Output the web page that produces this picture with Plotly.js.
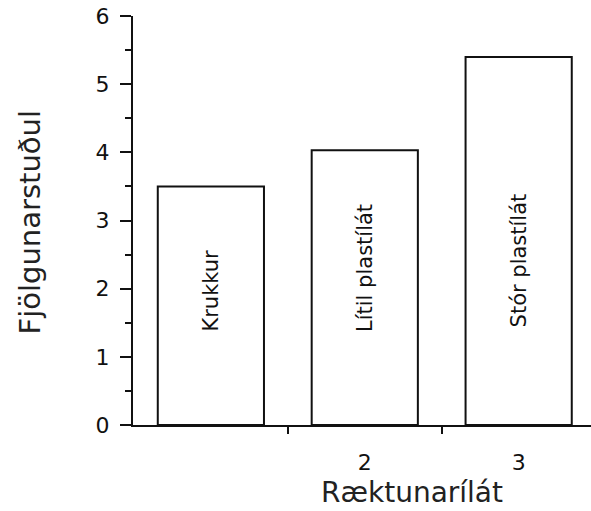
<!DOCTYPE html>
<html>
<head>
<meta charset="utf-8">
<script src="https://cdn.plot.ly/plotly-3.0.1.min.js"></script>
<style>html,body{margin:0;padding:0;background:#fff;}#chart{width:591px;height:511px;}</style>
</head>
<body>
<div id="chart"></div>
<script>
// Data
const categories = [1, 2, 3];
const values = [3.5, 4.03, 5.4];
const barLabels = ["Krukkur", "Lítil plastílát", "Stór plastílát"];
const labelY = [1.97, 2.3, 2.41];
const xTickVals = [2, 3];
const xTickText = ["2", "3"];
const xDividerTicks = [1.5, 2.5];
const yTickVals = [0, 1, 2, 3, 4, 5, 6];

const FONT = "DejaVu Sans, Arial, sans-serif";

const trace = {
  type: "bar",
  x: categories,
  y: values,
  width: 0.69,
  marker: { color: "#ffffff", line: { color: "#111", width: 2 } },
  hoverinfo: "none",
  showlegend: false
};
const dummy = { type: "scatter", x: [2], y: [0], xaxis: "x2", mode: "none", showlegend: false, hoverinfo: "none" };

const annotations = categories.map((c, i) => ({
  x: c, y: labelY[i], xref: "x", yref: "y",
  text: barLabels[i], textangle: -90, showarrow: false,
  font: { family: FONT, size: 21, color: "#111" }
}));
annotations.push({
  x: 0.609, y: -0.208, xref: "paper", yref: "paper", xanchor: "center", yanchor: "bottom",
  text: "Ræktunarílát", showarrow: false, borderpad: 0,
  font: { family: FONT, size: 28, color: "#222" }
});
annotations.push({
  x: -0.225, y: 0.495, xref: "paper", yref: "paper", xanchor: "center", yanchor: "middle",
  text: "Fjölgunarstuðul", textangle: -90, showarrow: false,
  font: { family: FONT, size: 29, color: "#222" }
});

const layout = {
  width: 591, height: 511,
  margin: { l: 133, r: 0, t: 16, b: 86 },
  paper_bgcolor: "#fff", plot_bgcolor: "#fff",
  bargap: 0.3,
  xaxis: {
    range: [0.494, 3.47],
    showgrid: false, zeroline: false,
    showline: true, linecolor: "#111", linewidth: 2,
    tickmode: "array", tickvals: xDividerTicks, ticks: "outside", ticklen: 7, tickwidth: 2, tickcolor: "#111",
    showticklabels: false, fixedrange: true
  },
  xaxis2: {
    overlaying: "x", anchor: "y", side: "bottom",
    range: [0.494, 3.47],
    showgrid: false, zeroline: false, showline: false,
    tickmode: "array", tickvals: xTickVals, ticktext: xTickText, ticks: "",
    ticklabelstandoff: 22,
    tickfont: { family: FONT, size: 22, color: "#111" }
  },
  yaxis: {
    range: [0, 6],
    showgrid: false, zeroline: false,
    showline: true, linecolor: "#111", linewidth: 2,
    tickmode: "array", tickvals: yTickVals, ticks: "outside", ticklen: 11, tickwidth: 2, tickcolor: "#111",
    minor: { dtick: 0.5, ticks: "outside", ticklen: 6, tickwidth: 2, tickcolor: "#111" },
    ticklabelstandoff: 6,
    tickfont: { family: FONT, size: 22, color: "#111" }
  },
  annotations: annotations
};

Plotly.newPlot("chart", [trace, dummy], layout, { displayModeBar: false, staticPlot: true });
</script>
</body>
</html>
